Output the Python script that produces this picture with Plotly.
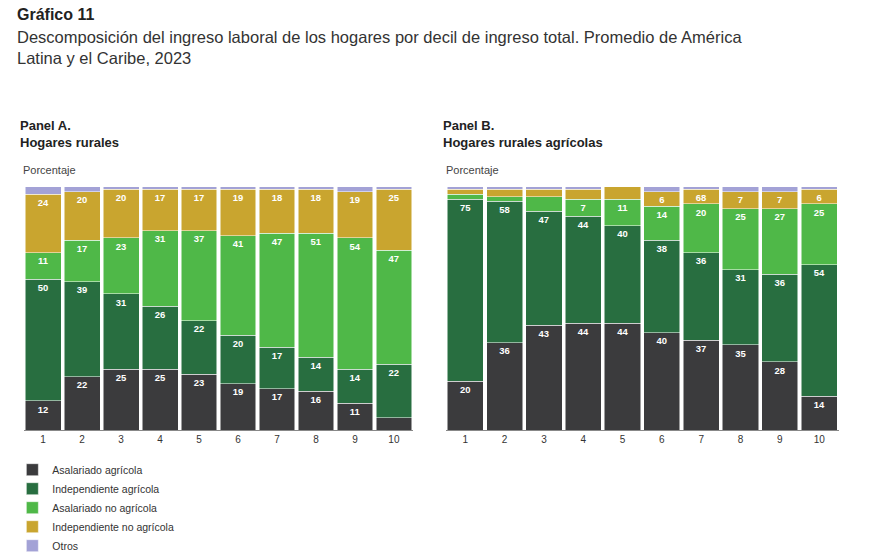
import plotly.graph_objects as go

deciles = [str(i) for i in range(1, 11)]
series = ["Asalariado agrícola", "Independiente agrícola", "Asalariado no agrícola", "Independiente no agrícola", "Otros"]
colors = ["#3b3b3d", "#286e40", "#4fb848", "#c9a52f", "#a3a2d6"]

a_asal_agr = [12, 22, 25, 25, 23, 19, 17, 16, 11, 5]
a_ind_agr = [50, 39, 31, 26, 22, 20, 17, 14, 14, 22]
a_asal_noagr = [11, 17, 23, 31, 37, 41, 47, 51, 54, 47]
a_ind_noagr = [24, 20, 20, 17, 17, 19, 18, 18, 19, 25]
a_otros = [3, 2, 1, 1, 1, 1, 1, 1, 2, 1]
a_labels = [
    ["12", "22", "25", "25", "23", "19", "17", "16", "11", ""],
    ["50", "39", "31", "26", "22", "20", "17", "14", "14", "22"],
    ["11", "17", "23", "31", "37", "41", "47", "51", "54", "47"],
    ["24", "20", "20", "17", "17", "19", "18", "18", "19", "25"],
    [""] * 10,
]

b_asal_agr = [20, 36, 43, 44, 44, 40, 37, 35, 28, 14]
b_ind_agr = [75, 58, 47, 44, 40, 38, 36, 31, 36, 54]
b_asal_noagr = [2, 2, 6, 7, 11, 14, 20, 25, 27, 25]
b_ind_noagr = [2, 3, 3, 4, 5, 6, 6, 7, 7, 6]
b_otros = [1, 1, 1, 1, 0, 2, 1, 2, 2, 1]
b_labels = [
    ["20", "36", "43", "44", "44", "40", "37", "35", "28", "14"],
    ["75", "58", "47", "44", "40", "38", "36", "31", "36", "54"],
    ["", "", "", "7", "11", "14", "20", "25", "27", "25"],
    ["", "", "", "", "", "6", "68", "7", "7", "6"],
    [""] * 10,
]

A = [a_asal_agr, a_ind_agr, a_asal_noagr, a_ind_noagr, a_otros]
B = [b_asal_agr, b_ind_agr, b_asal_noagr, b_ind_noagr, b_otros]

fig = go.Figure()
for i, name in enumerate(series):
    for vals, labels, xa, ya, show in [(A[i], a_labels[i], "x", "y", True), (B[i], b_labels[i], "x2", "y2", False)]:
        fig.add_trace(go.Bar(
            x=deciles, y=vals, name=name, marker=dict(color=colors[i], line=dict(color="white", width=0.5)),
            text=["<b>%s</b>" % t if t else "" for t in labels], textposition="inside", insidetextanchor="end",
            textfont=dict(color="white", size=12, family="Liberation Sans"),
            textangle=0, xaxis=xa, yaxis=ya, showlegend=show, legendgroup=name,
            hoverinfo="skip", cliponaxis=False,
        ))

ydom = [0.245, 0.68]
axis_common = dict(showgrid=False, zeroline=False, tickfont=dict(size=10, color="#333"), ticks="", showline=True,
                   linecolor="#888", linewidth=1)
fig.update_layout(
    barmode="stack", bargap=0.08, width=870, height=559,
    margin=dict(l=0, r=0, t=0, b=0), plot_bgcolor="white", paper_bgcolor="white",
    font=dict(family="Liberation Sans", color="#222"),
    uniformtext=dict(minsize=8, mode="show"),
    xaxis=dict(domain=[0.018, 0.466], anchor="y", **axis_common),
    yaxis=dict(domain=ydom, range=[0, 100], visible=False),
    xaxis2=dict(domain=[0.503, 0.955], anchor="y2", **axis_common),
    yaxis2=dict(domain=ydom, range=[0, 100], visible=False),
    legend=dict(x=0.005, y=0.2, yanchor="top", xanchor="left", font=dict(size=10.5, color="#333"),
                tracegroupgap=0, itemwidth=30, traceorder="normal"),
)

def ann(x, y, text, size, bold=False, color="#222"):
    fig.add_annotation(x=x, y=y, xref="paper", yref="paper", xanchor="left", yanchor="top",
                       text=f"<b>{text}</b>" if bold else text, showarrow=False, align="left",
                       font=dict(size=size, color=color, family="Liberation Sans"))

ann(0.008, 1.008, "Gráfico 11", 16, True)
ann(0.008, 0.968, "Descomposición del ingreso laboral de los hogares por decil de ingreso total. Promedio de América<br>Latina y el Caribe, 2023", 16.5, False, "#333")
ann(0.012, 0.807, "Panel A.<br>Hogares rurales", 13, True)
ann(0.498, 0.807, "Panel B.<br>Hogares rurales agrícolas", 13, True)
ann(0.015, 0.724, "Porcentaje", 11, False, "#444")
ann(0.501, 0.724, "Porcentaje", 11, False, "#444")

fig.write_html("out.html")
